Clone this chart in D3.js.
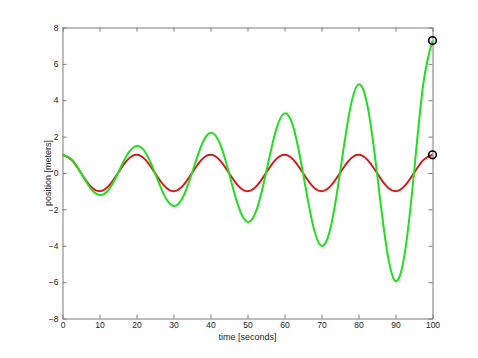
<!DOCTYPE html>
<html><head><meta charset="utf-8">
<script src="https://cdn.jsdelivr.net/npm/d3@7"></script>
<style>body{margin:0;background:#fff}svg{display:block}text{font-family:"Liberation Sans",Arial,sans-serif;fill:#222}</style>
</head><body>
<script>
// time samples [seconds]
const times = [0,2.5,5,7.5,10,12.5,15,17.5,20,22.5,25,27.5,30,32.5,35,37.5,40,42.5,45,47.5,50,52.5,55,57.5,60,62.5,65,67.5,70,72.5,75,77.5,80,82.5,85,87.5,90,92.5,95,97.5,100];
// red series (constant amplitude)
const redPos = [1,0.71,0,-0.71,-1,-0.71,0,0.71,1,0.71,0,-0.71,-1,-0.71,0,0.71,1,0.71,0,-0.71,-1,-0.71,0,0.71,1,0.71,0,-0.71,-1,-0.71,0,0.71,1,0.71,0,-0.71,-1,-0.71,0,0.71,1];
// green series (growing amplitude)
const greenPos = [1.00,0.74,0,-0.82,-1.21,-0.91,0,1.00,1.49,1.10,0,-1.22,-1.81,-1.35,0,1.49,2.21,1.64,0,-1.81,-2.69,-2.00,0,2.21,3.28,2.44,0,-2.69,-4.00,-2.97,0,3.28,4.87,3.62,0,-4.00,-5.94,-4.42,0,4.88,7.28];
const xTicks = [0,10,20,30,40,50,60,70,80,90,100];
const yTicks = [-8,-6,-4,-2,0,2,4,6,8];
const endMarkers = [7.28, 1];

const W = 478, H = 358;
const L = 62.5, R = 432.5, T = 27.5, B = 318.5;
const svg = d3.select("body").append("svg").attr("width", W).attr("height", H);
const x = d3.scaleLinear().domain([0,100]).range([L,R]);
const y = d3.scaleLinear().domain([-8,8]).range([B,T]);
const axisColor = "#7a7a7a";
const tl = 4;

function styleAxis(g){
  g.select(".domain").attr("stroke", axisColor);
  g.selectAll(".tick line").attr("stroke", axisColor);
  g.selectAll(".tick text").attr("font-size", "8.5px").attr("fill","#222");
}
svg.append("g").attr("transform",`translate(0,${B})`)
  .call(d3.axisBottom(x).tickValues(xTicks).tickSize(-tl).tickSizeOuter(0).tickPadding(3))
  .call(styleAxis);
svg.append("g").attr("transform",`translate(0,${T})`)
  .call(d3.axisTop(x).tickValues(xTicks).tickSize(-tl).tickSizeOuter(0).tickFormat(""))
  .call(styleAxis);
svg.append("g").attr("transform",`translate(${L},0)`)
  .call(d3.axisLeft(y).tickValues(yTicks).tickSize(-tl).tickSizeOuter(0).tickPadding(4))
  .call(styleAxis);
svg.append("g").attr("transform",`translate(${R},0)`)
  .call(d3.axisRight(y).tickValues(yTicks).tickSize(-tl).tickSizeOuter(0).tickFormat(""))
  .call(styleAxis);

const line = d3.line().x((d,i)=>x(times[i])).y(d=>y(d)).curve(d3.curveNatural);
svg.append("path").datum(redPos).attr("d", line).attr("fill","none")
  .attr("stroke","#d01c1c").attr("stroke-width",2);
svg.append("path").datum(greenPos).attr("d", line).attr("fill","none")
  .attr("stroke","#22dd22").attr("stroke-width",2);

svg.selectAll("circle.m").data(endMarkers).enter().append("circle")
  .attr("cx", x(100)).attr("cy", d=>y(d)).attr("r", 3.8)
  .attr("fill","none").attr("stroke","#000").attr("stroke-width",1.6);

svg.append("text").attr("x", (L+R)/2).attr("y", 340).attr("text-anchor","middle")
  .attr("font-size","9px").text("time [seconds]");
svg.append("text").attr("transform",`translate(50.5,${(T+B)/2}) rotate(-90)`)
  .attr("text-anchor","middle").attr("font-size","9px").text("position [meters]");
</script>
</body></html>
